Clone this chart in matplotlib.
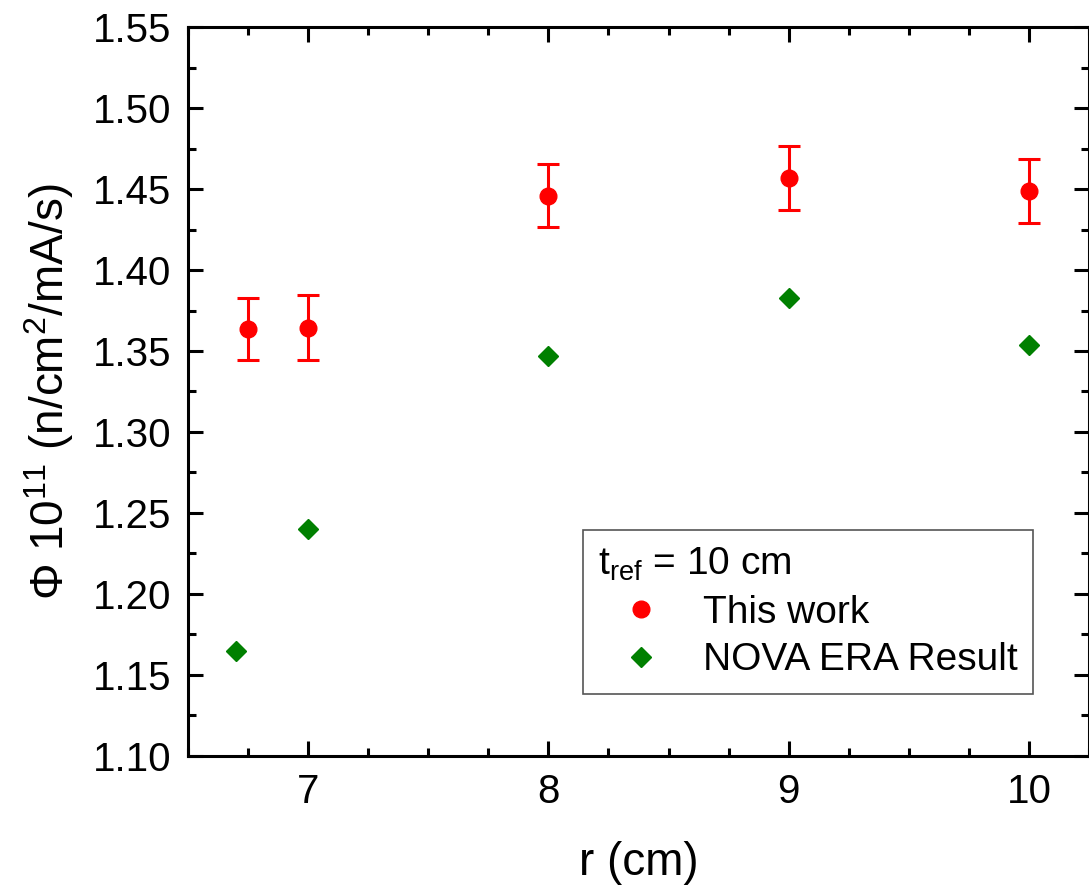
import numpy as np
import matplotlib
matplotlib.use('Agg')
import matplotlib.pyplot as plt
from matplotlib.lines import Line2D
from matplotlib.ticker import MultipleLocator

plt.rcParams['font.family'] = ['Liberation Sans', 'DejaVu Sans']
plt.rcParams['mathtext.fontset'] = 'custom'
plt.rcParams['mathtext.rm'] = 'Liberation Sans'
plt.rcParams['mathtext.it'] = 'Liberation Sans'

# data
r_this = [6.75, 7.0, 8.0, 9.0, 10.0]
phi_this = [1.3635, 1.3643, 1.4458, 1.4568, 1.4488]
phi_err = [0.019, 0.020, 0.0195, 0.0195, 0.0198]

r_nova = [6.7, 7.0, 8.0, 9.0, 10.0]
phi_nova = [1.165, 1.240, 1.347, 1.383, 1.354]

fig = plt.figure(figsize=(10.89, 8.92), dpi=100)
ax = fig.add_axes([0.1726, 0.1525, 0.8274, 0.8172])

ax.errorbar(r_this, phi_this, yerr=phi_err, fmt='o', color='#ff0000',
            ms=12, elinewidth=2.2, capsize=8, capthick=2.2)
ax.plot(r_nova, phi_nova, 'D', color='#008000', ms=10, ls='none')

ax.set_xlim(6.5, 10.25)
ax.set_ylim(1.10, 1.55)
ax.xaxis.set_major_locator(MultipleLocator(1))
ax.xaxis.set_minor_locator(MultipleLocator(0.25))
ax.yaxis.set_major_locator(MultipleLocator(0.05))
ax.yaxis.set_minor_locator(MultipleLocator(0.025))
ax.yaxis.set_major_formatter(matplotlib.ticker.FormatStrFormatter('%.2f'))

ax.tick_params(which='both', direction='in', top=True, right=True, width=2.2)
ax.tick_params(which='major', length=11, labelsize=29, pad=12)
ax.tick_params(which='minor', length=6)
for s in ax.spines.values():
    s.set_linewidth(2.2)

ax.set_xlabel('r (cm)', fontsize=33, labelpad=22)
ax.set_ylabel(r'$\Phi$ 10$^{11}$ (n/cm$^{2}$/mA/s)', fontsize=33, labelpad=12)

handles = [
    Line2D([], [], marker='o', color='#ff0000', ls='none', ms=12),
    Line2D([], [], marker='D', color='#008000', ls='none', ms=10),
]
leg = ax.legend(handles, ['This work', 'NOVA ERA Result'],
                title=r't$_{\rm ref}$ = 10 cm', title_fontsize=28, fontsize=28,
                loc='upper left', bbox_to_anchor=(0.438, 0.31), borderaxespad=0,
                fancybox=False, edgecolor='#555555', framealpha=1,
                alignment='left', handlelength=2.2, handletextpad=0.5,
                labelspacing=0.3, borderpad=0.4)
leg.get_frame().set_linewidth(1.2)

fig.savefig('out.png', dpi=100)
